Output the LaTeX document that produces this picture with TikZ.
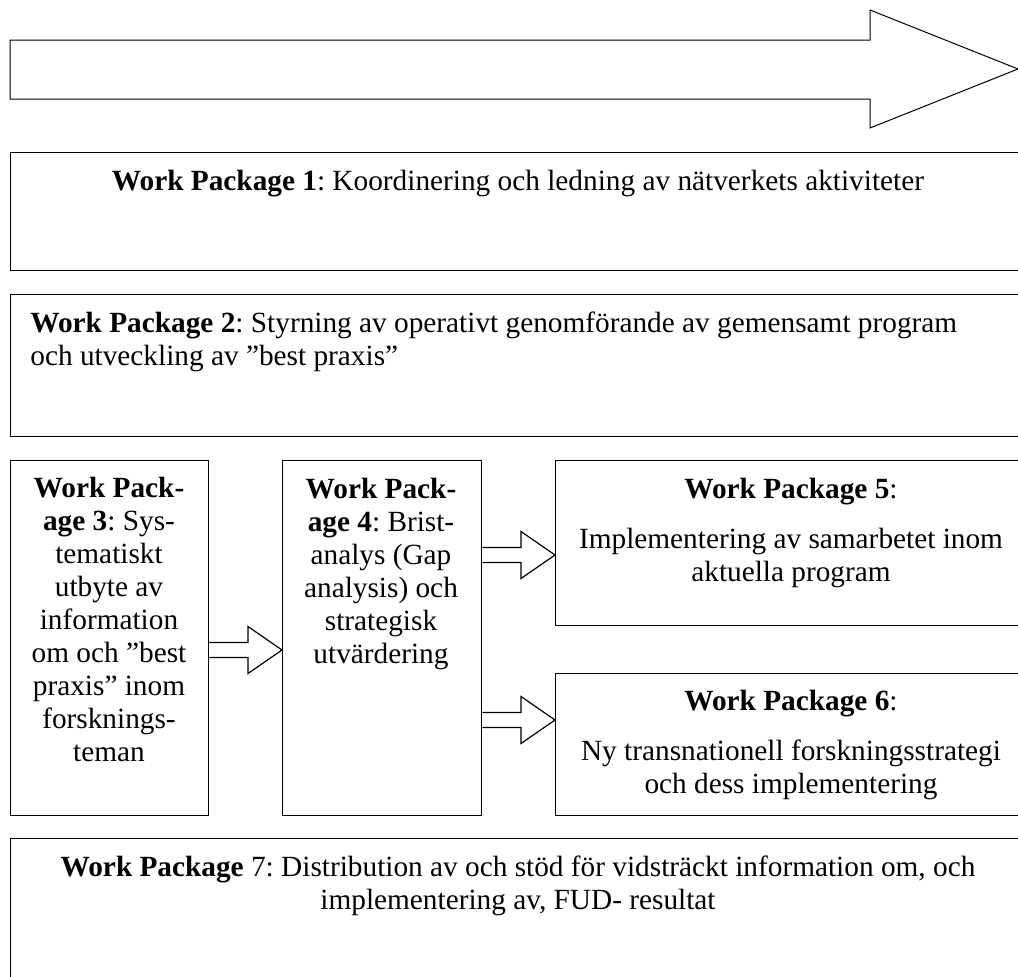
\documentclass[tikz,border=0pt]{standalone}
\usepackage{fontspec}
\setmainfont{Liberation Serif}
\usetikzlibrary{positioning,calc}
\frenchspacing

% block arrow between two boxes at height #3 (px)
\newcommand{\blockarrow}[3]{%
  \coordinate (ba-s) at (#1.east |- 0,#3);
  \coordinate (ba-e) at (#2.west |- 0,#3);
  \draw[blockarr] ($(ba-s)+(0,-7.5)$) -- ($(ba-e)+(-34,-7.5)$) -- ($(ba-e)+(-34,-23.5)$)
    -- (ba-e) -- ($(ba-e)+(-34,23.5)$) -- ($(ba-e)+(-34,7.5)$) -- ($(ba-s)+(0,7.5)$);}

\begin{document}
\begin{tikzpicture}[x=0.5pt, y=-0.5pt, line join=miter,
  wpbox/.style={draw, line width=0.7pt, inner sep=0pt, anchor=north west},
  wptext/.style={inner sep=0pt, anchor=north, align=center, font=\fontsize{14.65}{16.5}\selectfont},
  blockarr/.style={draw, line width=0.6pt}]
\useasboundingbox (0,0) rectangle (1018,976);
% time arrow
\draw[line width=0.5pt] (10,40) -- (870,40) -- (870,10) -- (1018,69) -- (870,128) -- (870,99) -- (10,99) -- cycle;
% work package boxes
\node[wpbox, minimum width=510pt, minimum height=59pt] (wp1) at (10,152) {};
\node[wpbox, minimum width=510pt, minimum height=71pt] (wp2) at (10,294) {};
\node[wpbox, minimum width=99pt, minimum height=177.5pt] (wp3) at (10,460) {};
\node[wpbox, minimum width=99.5pt, minimum height=177.5pt] (wp4) at (282,460) {};
\node[wpbox, minimum width=237.5pt, minimum height=82.5pt] (wp5) at (555,460) {};
\node[wpbox, minimum width=237.5pt, minimum height=71pt] (wp6) at (555,673) {};
\node[wpbox, minimum width=510pt, minimum height=76pt] (wp7) at (10,838) {};
% texts
\node[wptext] (wp1txt) at (518,167) {\strut\textbf{Work Package 1}: Koordinering och ledning av nätverkets aktiviteter};
\node[wptext, anchor=north west, align=left] (wp2txt) at (30,309)
  {\strut\textbf{Work Package 2}: Styrning av operativt genomförande av gemensamt program\\och utveckling av ”best praxis”};
\node[wptext] (wp3txt) at (109,474) {\strut\textbf{Work Pack-}\\\textbf{age 3}: Sys-\\tematiskt\\utbyte av\\information\\om och ”best\\praxis” inom\\forsknings-\\teman};
\node[wptext] (wp4txt) at (381,475) {\strut\textbf{Work Pack-}\\\textbf{age 4}: Brist-\\analys (Gap\\analysis) och\\strategisk\\utvärdering};
\node[wptext] (wp5txt) at (791,475) {\strut\textbf{Work Package 5}:\\[8.5pt]Implementering av samarbetet inom\\aktuella program};
\node[wptext] (wp6txt) at (791,687) {\strut\textbf{Work Package 6}:\\[8.5pt]Ny transnationell forskningsstrategi\\och dess implementering};
\node[wptext] (wp7txt) at (518,853) {\strut\textbf{Work Package} 7: Distribution av och stöd för vidsträckt information om, och\\implementering av, FUD- resultat};
% flow arrows
\blockarrow{wp3}{wp4}{650}
\blockarrow{wp4}{wp5}{555}
\blockarrow{wp4}{wp6}{720}
\end{tikzpicture}
\end{document}
